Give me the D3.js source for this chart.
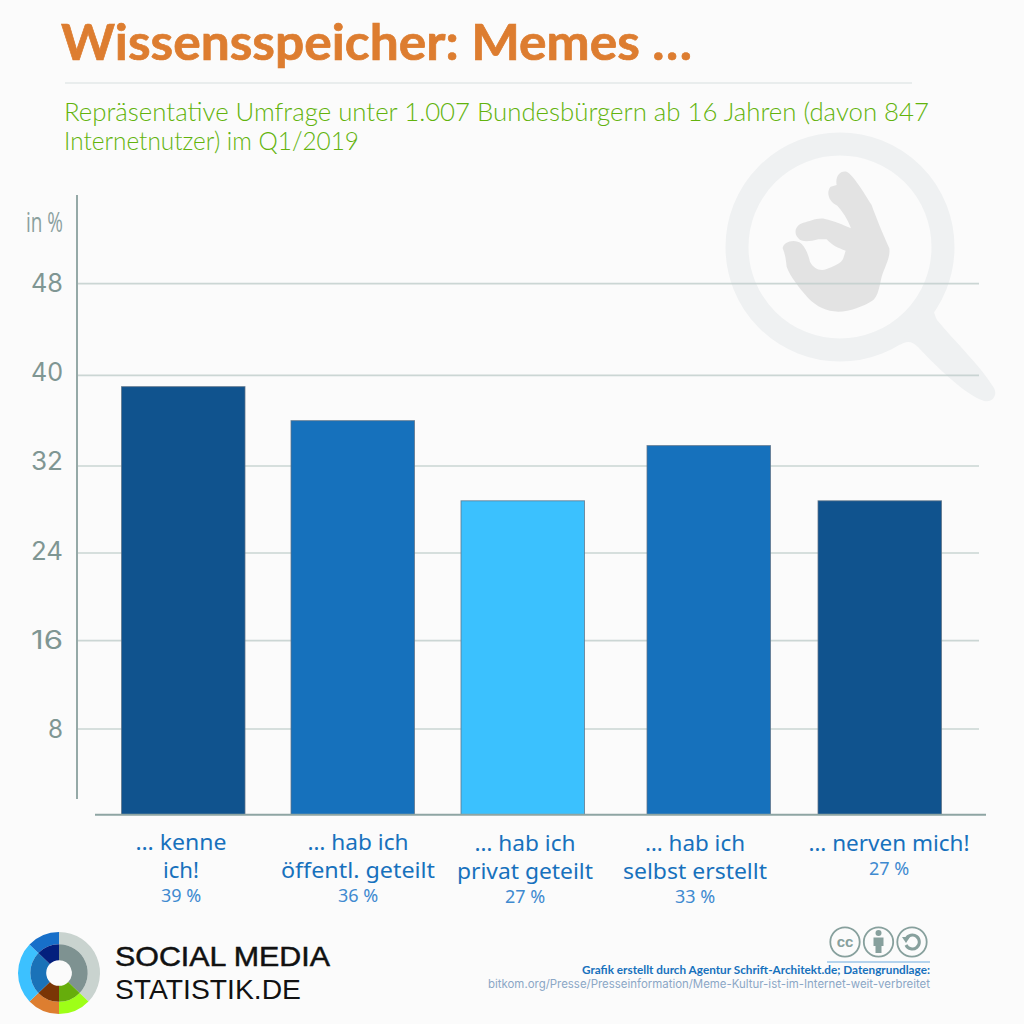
<!DOCTYPE html>
<html lang="de"><head><meta charset="utf-8">
<script src="https://cdn.jsdelivr.net/npm/d3@7/dist/d3.min.js"></script>
<style>html,body{margin:0;padding:0;background:#fbfbfb}svg{display:block}text{font-kerning:normal}</style>
</head><body><svg id="c" width="1024" height="1024"></svg>
<script>
const categories = ["kenne","oeffentlich","privat","selbst","nerven"];
const labelLines = [["… kenne","ich!"],["… hab ich","öffentl. geteilt"],["… hab ich","privat geteilt"],["… hab ich","selbst erstellt"],["… nerven mich!"]];
const labelWidths = [[91,36],[101,154],[101,136],[100,144],[161]];
const barValues = [39, 36, 28.8, 33.8, 28.8];
const percentLabels = ["39 %","36 %","27 %","33 %","27 %"];
const barColors = ["#10538e","#1671bc","#3bc1fe","#1671bc","#10538e"];
const tickValues = [8,16,24,32,40,48];
const logoOuter = ["#c9d3cf","#9eff17","#dd7e30","#3cc1ff","#176fc9"];
const logoInner = ["#7e9291","#66ad0b","#7a3505","#1a72b8","#031f7d"];
const logoShares = [134,46,46,88,46];

const svg = d3.select("#c");
svg.append("rect").attr("width",1024).attr("height",1024).attr("fill","#fbfbfb");

// watermark
const mark = svg.append("g");
mark.append("circle").attr("cx",840).attr("cy",247).attr("r",103).attr("fill","none").attr("stroke","#eff1f2").attr("stroke-width",23);
mark.append("path").attr("fill","#eff1f2")
  .attr("d","M928 300 C934 308 934 314 937 320 C955 342 980 365 994 388 C998 396 992 403 984 401 C965 395 935 365 918 347 C912 342 908 340 900 345 Z");
mark.append("path").attr("fill","#e3e3e3").attr("transform","translate(700,120) scale(0.3333)")
  .attr("d","M248 385 C250 365 285 355 305 372 C318 385 325 405 330 425 C340 445 360 455 380 447 C400 440 425 430 430 415 L437 392 C415 385 395 375 380 358 L355 358 C330 365 305 368 295 355 C280 340 285 315 310 308 C330 305 350 292 375 297 C400 302 430 315 453 325 C445 300 425 270 412 257 C385 245 378 215 392 200 L410 195 C405 170 420 150 440 155 C460 165 490 215 515 255 C525 285 550 345 568 385 C572 410 555 440 545 470 C538 500 535 525 520 540 C490 560 450 575 415 575 C380 575 350 560 325 535 C300 505 270 470 260 440 C258 420 255 400 248 385 Z");

// title block
const fit = (sel,w)=>sel.attr("textLength",w).attr("lengthAdjust","spacingAndGlyphs");
fit(svg.append("text").attr("x",61).attr("y",60).attr("font-family","Lato").attr("font-weight",700).attr("font-size",49).attr("fill","#dd7d30").attr("stroke","#dd7d30").attr("stroke-width",.7).text("Wissensspeicher: Memes …"),631);
svg.append("line").attr("x1",65).attr("x2",912).attr("y1",83).attr("y2",83).attr("stroke","#e3e9e8").attr("stroke-width",1.6);
fit(svg.append("text").attr("x",64).attr("y",121).attr("font-family","Lato").attr("font-weight",300).attr("font-size",24.5).attr("fill","#62b30c").text("Repräsentative Umfrage unter 1.007 Bundesbürgern ab 16 Jahren (davon 847"),865);
fit(svg.append("text").attr("x",64).attr("y",150).attr("font-family","Lato").attr("font-weight",300).attr("font-size",24.5).attr("fill","#62b30c").text("Internetnutzer) im Q1/2019"),295);

// scales: the reference's gridlines are unevenly spaced, so the scale follows them
const y = d3.scaleLinear().domain([0,8,16,24,32,40,48]).range([814.5,729,640.7,553,466,375.3,283.7]);
const tickY = d3.scaleLinear().domain([8,48]).range([738,292]);
const x = d3.scaleOrdinal().domain(categories).range([121.5,291,461,647,818]);
const labelX = d3.scaleOrdinal().domain(categories).range([181,358,525,695,889]);
const barW = 123.5;

svg.append("g").selectAll("line").data(tickValues).join("line")
  .attr("x1",78).attr("x2",979).attr("y1",d=>y(d)).attr("y2",d=>y(d))
  .attr("stroke","#bfcdca").attr("stroke-opacity",.8).attr("stroke-width",1.7);
svg.append("g").selectAll("text").data(tickValues).join("text")
  .attr("x",d=>d<10?48:31).attr("y",d=>tickY(d))
  .attr("font-family","Inter").attr("font-size",25).attr("fill","#7f9693")
  .attr("textLength",d=>d<10?15:32).attr("lengthAdjust","spacingAndGlyphs").text(d=>d);
svg.append("line").attr("x1",77).attr("x2",77).attr("y1",195).attr("y2",799).attr("stroke","#95a9a7").attr("stroke-width",2);
fit(svg.append("text").attr("x",26).attr("y",232).attr("font-family","Open Sans").attr("font-size",27).attr("fill","#8aa09e").text("in %"),37);

// bars
svg.append("g").selectAll("rect").data(categories).join("rect")
  .attr("x",d=>x(d)).attr("width",barW)
  .attr("y",(d,i)=>y(barValues[i])).attr("height",(d,i)=>y(0)-y(barValues[i]))
  .attr("fill",(d,i)=>barColors[i]).attr("stroke","#5d7186").attr("stroke-opacity",.75).attr("stroke-width",1);
svg.append("line").attr("x1",95).attr("x2",986).attr("y1",814.7).attr("y2",814.7).attr("stroke","#8ea5a3").attr("stroke-width",2);

// category labels
const labs = svg.append("g").selectAll("g").data(categories).join("g");
labs.each(function(c,i){
  const g=d3.select(this), cx=labelX(c), base=i===0||i===1?850:851;
  labelLines[i].forEach((t,k)=>g.append("text").attr("x",cx).attr("y",base+k*28).attr("text-anchor","middle")
    .attr("font-family","Noto Sans").attr("font-size",22).attr("fill","#1771bd")
    .attr("textLength",labelWidths[i][k]).attr("lengthAdjust","spacingAndGlyphs").text(t));
  const py = base + (labelLines[i].length-1)*28 + 24;
  g.append("text").attr("x",cx).attr("y",py).attr("text-anchor","middle")
    .attr("font-family","Noto Sans").attr("font-size",18).attr("fill","#3f8ad0").text(percentLabels[i]);
});

// logo
const logo = svg.append("g").attr("transform","translate(59,973)");
let a0=0;
logoShares.forEach((s,i)=>{
  const s0=a0*Math.PI/180, s1=(a0+s)*Math.PI/180; a0+=s;
  logo.append("path").attr("d",d3.arc()({innerRadius:28.7,outerRadius:41,startAngle:s0,endAngle:s1})).attr("fill",logoOuter[i]);
  logo.append("path").attr("d",d3.arc()({innerRadius:12.8,outerRadius:28.7,startAngle:s0,endAngle:s1})).attr("fill",logoInner[i]);
});
fit(svg.append("text").attr("x",115).attr("y",966).attr("font-family","Liberation Sans").attr("font-size",28.5).attr("fill","#111").attr("stroke","#111").attr("stroke-width",.5).text("SOCIAL MEDIA"),215);
fit(svg.append("text").attr("x",115).attr("y",999).attr("font-family","Liberation Sans").attr("font-size",28.5).attr("fill","#111").text("STATISTIK.DE"),186);

// licence icons
const cc = svg.append("g").attr("fill","none").attr("stroke","#87a09d").attr("stroke-width",1.8);
[845,878.5,912].forEach(cx=>cc.append("circle").attr("cx",cx).attr("cy",942).attr("r",14.7));
svg.append("text").attr("x",845).attr("y",947).attr("text-anchor","middle").attr("font-family","Liberation Sans").attr("font-weight",700).attr("font-size",15).attr("fill","#87a09d").text("cc");
svg.append("circle").attr("cx",878.5).attr("cy",933).attr("r",3).attr("fill","#87a09d");
svg.append("path").attr("d","M873.5 937.5 H883.5 V946 H881.5 V953 H875.5 V946 H873.5 Z").attr("fill","#87a09d");
svg.append("path").attr("d","M906 939 A7 7 0 1 1 906 945").attr("fill","none").attr("stroke","#87a09d").attr("stroke-width",3);
svg.append("path").attr("d","M902 937 H910 L906 943 Z").attr("fill","#87a09d");
svg.append("line").attr("x1",827).attr("x2",930).attr("y1",962).attr("y2",962).attr("stroke","#9cc6e8").attr("stroke-width",1.5);
fit(svg.append("text").attr("x",582).attr("y",974).attr("font-family","Lato").attr("font-weight",700).attr("font-size",11.5).attr("fill","#1771bd").text("Grafik erstellt durch Agentur Schrift-Architekt.de; Datengrundlage:"),348);
fit(svg.append("text").attr("x",488).attr("y",988).attr("font-family","Inter").attr("font-size",11.5).attr("fill","#8ba7c6").text("bitkom.org/Presse/Presseinformation/Meme-Kultur-ist-im-Internet-weit-verbreitet"),442);
</script></body></html>
